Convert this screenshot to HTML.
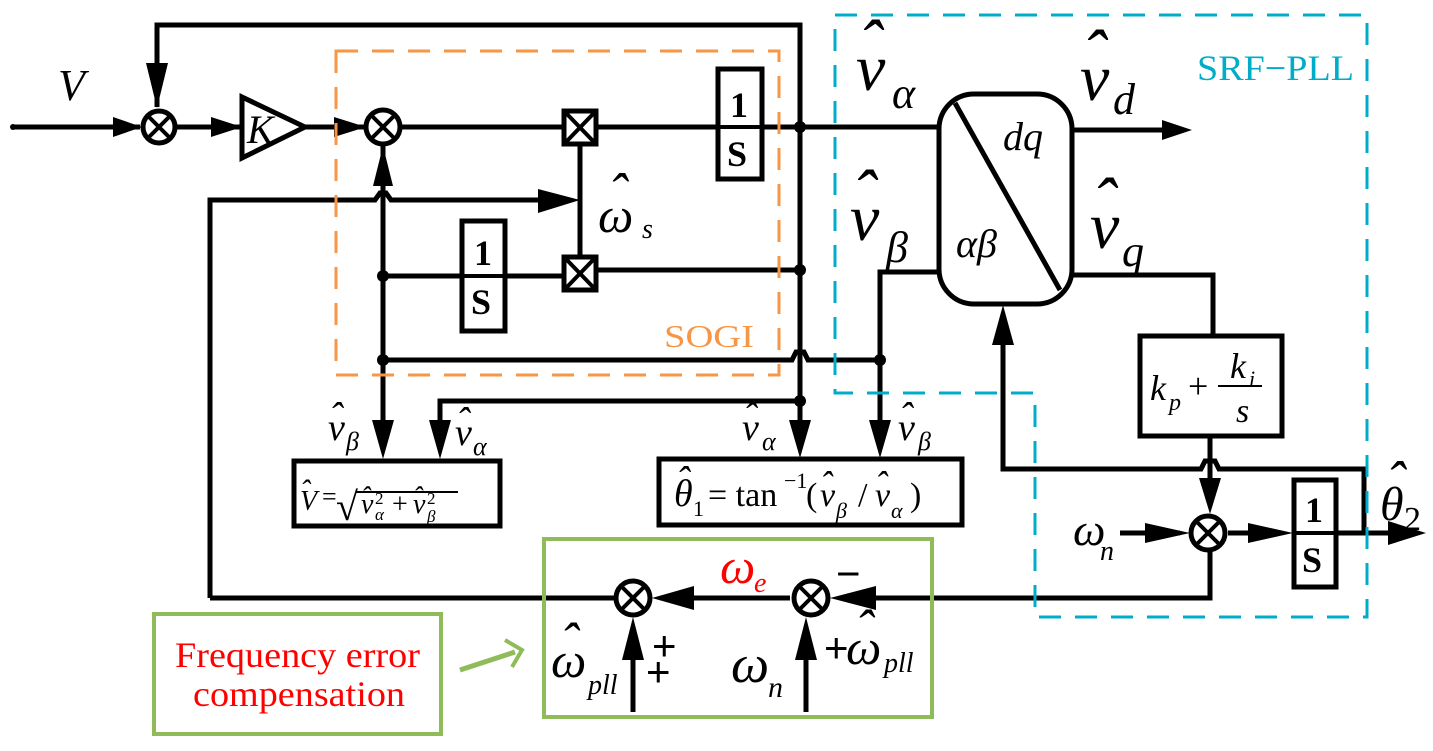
<!DOCTYPE html>
<html><head><meta charset="utf-8"><style>
body{margin:0;background:#fff;width:1433px;height:751px;overflow:hidden}
svg{display:block}
.m{font-family:"Liberation Serif",serif;font-style:italic}
.r{font-family:"Liberation Serif",serif}
</style></head><body>
<svg width="1433" height="751" viewBox="0 0 1433 751" xmlns="http://www.w3.org/2000/svg">
<g fill="none" stroke="#000" stroke-width="5">
<polyline points="157,107 157,25 800,25 800,400"/>
<line x1="13" y1="127" x2="140" y2="127"/>
<line x1="175" y1="127" x2="241" y2="127"/>
<line x1="305" y1="127" x2="365" y2="127"/>
<line x1="401" y1="127" x2="563" y2="127"/>
<line x1="596" y1="127" x2="717" y2="127"/>
<line x1="763" y1="127" x2="939" y2="127"/>
<line x1="580" y1="145" x2="580" y2="257"/>
<polyline points="210,598 210,200 375,200 380,193 386,193 391,200 560,200"/>
<line x1="383" y1="145" x2="383" y2="440"/>
<line x1="383" y1="276" x2="461" y2="276"/>
<line x1="505" y1="276" x2="563" y2="276"/>
<line x1="596" y1="270" x2="800" y2="270"/>
<polyline points="383,360 792,360 796,352 804,352 808,360 880,360"/>
<polyline points="800,401 440,401 440,440"/>
<line x1="800" y1="401" x2="800" y2="440"/>
<polyline points="939,272 880,272 880,440"/>
<line x1="1073" y1="130" x2="1170" y2="130"/>
<polyline points="1073,275 1213,275 1213,335"/>
<line x1="1210" y1="437" x2="1210" y2="500"/>
<polyline points="1364,533 1364,469 1219,469 1215,461 1205,461 1201,469 1003,469 1003,325"/>
<line x1="1120" y1="533" x2="1180" y2="533"/>
<line x1="1228" y1="533" x2="1280" y2="533"/>
<line x1="1337" y1="533" x2="1400" y2="533"/>
<polyline points="1210,551 1210,598 870,598"/>
<line x1="790" y1="598" x2="660" y2="598"/>
<polyline points="615,598 210,598"/>
<line x1="633" y1="712" x2="633" y2="640"/>
<line x1="806" y1="712" x2="806" y2="640"/>
<circle cx="159" cy="127" r="16" fill="#fff"/>
<circle cx="383" cy="127" r="17" fill="#fff"/>
<circle cx="1208" cy="533" r="17" fill="#fff"/>
<circle cx="633" cy="598" r="17" fill="#fff"/>
<circle cx="811" cy="598" r="17" fill="#fff"/>
<polygon points="242,97 305,127 242,158" fill="#fff"/>
<rect x="564" y="111" width="32" height="33" fill="#fff"/>
<rect x="564" y="257" width="32" height="33" fill="#fff"/>
<rect x="718" y="69" width="44" height="110" fill="#fff"/>
<rect x="462" y="221" width="43" height="110" fill="#fff"/>
<rect x="1294" y="480" width="42" height="107" fill="#fff"/>
<rect x="939" y="94" width="133" height="210" rx="35" fill="#fff"/>
<line x1="955" y1="103" x2="1060" y2="290"/>
<rect x="1140" y="336" width="142" height="100" fill="#fff"/>
<rect x="294" y="461" width="206" height="65"/>
<rect x="659" y="459" width="303" height="66"/>
</g>
<g stroke="#000" stroke-width="4">
<line x1="148" y1="116" x2="170" y2="138"/><line x1="170" y1="116" x2="148" y2="138"/>
<line x1="371" y1="115" x2="395" y2="139"/><line x1="395" y1="115" x2="371" y2="139"/>
<line x1="1196" y1="521" x2="1220" y2="545"/><line x1="1220" y1="521" x2="1196" y2="545"/>
<line x1="621" y1="586" x2="645" y2="610"/><line x1="645" y1="586" x2="621" y2="610"/>
<line x1="799" y1="586" x2="823" y2="610"/><line x1="823" y1="586" x2="799" y2="610"/>
<line x1="566" y1="113" x2="594" y2="142"/><line x1="594" y1="113" x2="566" y2="142"/>
<line x1="566" y1="259" x2="594" y2="288"/><line x1="594" y1="259" x2="566" y2="288"/>
<line x1="718" y1="127" x2="762" y2="127"/>
<line x1="462" y1="276" x2="505" y2="276"/>
<line x1="1294" y1="533" x2="1336" y2="533"/>
</g>
<g fill="#000">
<polygon points="146,63 168,63 157,108"/>
<polygon points="113,117 113,137 142,127"/>
<polygon points="211,117 211,137 242,127"/>
<polygon points="334,117 334,137 366,127"/>
<polygon points="373,186 393,186 383,146"/>
<polygon points="538,189 538,213 580,200"/>
<polygon points="1162,120 1162,140 1192,130"/>
<polygon points="372,420 394,420 383,459"/>
<polygon points="429,420 451,420 440,459"/>
<polygon points="789,420 811,420 800,458"/>
<polygon points="869,420 891,420 880,458"/>
<polygon points="992,345 1014,345 1003,305"/>
<polygon points="1199,478 1221,478 1210,514"/>
<polygon points="1145,523 1145,543 1190,533"/>
<polygon points="1248,523 1248,543 1293,533"/>
<polygon points="1388,521 1388,545 1426,533"/>
<polygon points="876,586 876,610 830,598"/>
<polygon points="694,586 694,610 652,598"/>
<polygon points="622,660 644,660 633,617"/>
<polygon points="795,660 817,660 806,617"/>
<circle cx="383" cy="276" r="6"/><circle cx="383" cy="360" r="6"/>
<circle cx="800" cy="127" r="6"/><circle cx="800" cy="270" r="6"/>
<circle cx="800" cy="401" r="6"/><circle cx="880" cy="360" r="6"/>
<circle cx="13" cy="127" r="3"/>
</g>
<rect x="336" y="51" width="443" height="324" fill="none" stroke="#f79646" stroke-width="3" stroke-dasharray="22,14"/>
<polyline points="835,15 1367,15 1367,617 1035,617 1035,393 835,393 835,15" fill="none" stroke="#00adc8" stroke-width="3" stroke-dasharray="22,14"/>
<rect x="544" y="539" width="388" height="178" fill="none" stroke="#8fbb5b" stroke-width="4"/>
<rect x="154" y="614" width="287" height="120" fill="none" stroke="#8fbb5b" stroke-width="4"/>
<line x1="460" y1="670" x2="515" y2="652" stroke="#8fbb5b" stroke-width="5"/>
<polyline points="505,640 522,650 512,667" fill="none" stroke="#8fbb5b" stroke-width="4"/>
<g class="m" fill="#000">
<text x="58" y="100" font-size="44">V</text>
<text x="247" y="143" font-size="40">K</text>
<text x="598" y="232" font-size="50">ω</text><text x="608" y="212" font-size="56" class="r">ˆ</text>
<text x="642" y="238" font-size="28">s</text>
<text x="856" y="90" font-size="66">v</text><text x="858" y="68" font-size="70" class="r">ˆ</text>
<text x="892" y="108" font-size="44">α</text>
<text x="1080" y="100" font-size="66">v</text><text x="1082" y="78" font-size="70" class="r">ˆ</text>
<text x="1113" y="114" font-size="44">d</text>
<text x="850" y="240" font-size="66">v</text><text x="852" y="218" font-size="70" class="r">ˆ</text>
<text x="886" y="262" font-size="44">β</text>
<text x="1090" y="248" font-size="66">v</text><text x="1092" y="226" font-size="70" class="r">ˆ</text>
<text x="1122" y="266" font-size="44">q</text>
<text x="1003" y="150" font-size="40">dq</text>
<text x="956" y="257" font-size="40">αβ</text>
<text x="328" y="440" font-size="38">v</text><text x="329" y="430" font-size="40" class="r">ˆ</text>
<text x="346" y="450" font-size="26">β</text>
<text x="455" y="445" font-size="38">v</text><text x="456" y="435" font-size="40" class="r">ˆ</text>
<text x="473" y="455" font-size="26">α</text>
<text x="742" y="440" font-size="38">v</text><text x="743" y="430" font-size="40" class="r">ˆ</text>
<text x="762" y="450" font-size="26">α</text>
<text x="898" y="440" font-size="38">v</text><text x="899" y="430" font-size="40" class="r">ˆ</text>
<text x="918" y="450" font-size="26">β</text>
<text x="1380" y="520" font-size="48">θ</text><text x="1386" y="500" font-size="56" class="r">ˆ</text>
<text x="1404" y="530" font-size="34" class="r" font-style="normal">2</text>
<text x="1073" y="545" font-size="46">ω</text><text x="1100" y="560" font-size="28">n</text>
<text x="1150" y="400" font-size="36">k</text><text x="1169" y="410" font-size="24">p</text>
<text x="1188" y="398" font-size="36" class="r" font-style="normal">+</text>
<line x1="1218" y1="386" x2="1262" y2="386" stroke="#000" stroke-width="2"/>
<text x="1230" y="378" font-size="36">k</text><text x="1249" y="386" font-size="22">i</text>
<text x="1236" y="422" font-size="34">s</text>
<text x="300" y="510" font-size="28">V</text><text x="300" y="500" font-size="30" class="r">ˆ</text>
<text x="322" y="505" font-size="26" class="r" font-style="normal">=</text>
<text x="336" y="520" font-size="40" class="r" font-style="normal">√</text>
<line x1="356" y1="492" x2="458" y2="492" stroke="#000" stroke-width="2"/>
<text x="361" y="513" font-size="28">v</text><text x="361" y="506" font-size="28" class="r">ˆ</text>
<text x="375" y="504" font-size="17" class="r" font-style="normal">2</text><text x="375" y="520" font-size="17">α</text>
<text x="392" y="513" font-size="28" class="r" font-style="normal">+</text>
<text x="413" y="513" font-size="28">v</text><text x="413" y="506" font-size="28" class="r">ˆ</text>
<text x="427" y="504" font-size="17" class="r" font-style="normal">2</text><text x="427" y="522" font-size="17">β</text>
<text x="674" y="506" font-size="38">θ</text><text x="676" y="494" font-size="40" class="r">ˆ</text>
<text x="693" y="516" font-size="22" class="r" font-style="normal">1</text>
<text x="708" y="506" font-size="34" class="r" font-style="normal">= tan</text>
<text x="784" y="488" font-size="22" class="r" font-style="normal">−1</text>
<text x="806" y="506" font-size="34" class="r" font-style="normal">(</text>
<text x="820" y="506" font-size="34">v</text><text x="820" y="496" font-size="36" class="r">ˆ</text>
<text x="836" y="518" font-size="22">β</text>
<text x="858" y="506" font-size="34" class="r" font-style="normal">/</text>
<text x="875" y="506" font-size="34">v</text><text x="875" y="496" font-size="36" class="r">ˆ</text>
<text x="891" y="518" font-size="22">α</text>
<text x="910" y="506" font-size="34" class="r" font-style="normal">)</text>
<text x="720" y="583" font-size="50" fill="#ff0000">ω</text>
<text x="754" y="592" font-size="28" fill="#ff0000">e</text>
<text x="551" y="677" font-size="50">ω</text><text x="560" y="660" font-size="54" class="r">ˆ</text>
<text x="588" y="694" font-size="28">pll</text>
<text x="731" y="682" font-size="54">ω</text><text x="768" y="697" font-size="30">n</text>
<text x="846" y="664" font-size="50">ω</text><text x="855" y="647" font-size="54" class="r">ˆ</text>
<text x="884" y="672" font-size="28">pll</text>
</g>
<g class="r" fill="#000" font-size="36" font-weight="bold">
<text x="730" y="117">1</text><text x="727" y="166">S</text>
<text x="474" y="265">1</text><text x="471" y="314">S</text>
<text x="1305" y="522">1</text><text x="1302" y="572">S</text>
</g>
<g fill="#000" font-family="Liberation Sans,sans-serif" font-size="42">
<text x="652" y="660">+</text><text x="646" y="686">+</text>
<text x="824" y="662">+</text><text x="836" y="588">−</text>
</g>
<text x="664" y="347" font-family="Liberation Serif,serif" font-size="32" fill="#f79646" textLength="90" lengthAdjust="spacingAndGlyphs">SOGI</text>
<text x="1197" y="80" font-family="Liberation Serif,serif" font-size="36" fill="#00adc8" textLength="157" lengthAdjust="spacingAndGlyphs">SRF−PLL</text>
<g font-family="Liberation Serif,serif" font-size="36" fill="#ff0000">
<text x="175" y="667" textLength="245" lengthAdjust="spacingAndGlyphs">Frequency error</text>
<text x="193" y="706" textLength="212" lengthAdjust="spacingAndGlyphs">compensation</text>
</g>
</svg>
</body></html>
